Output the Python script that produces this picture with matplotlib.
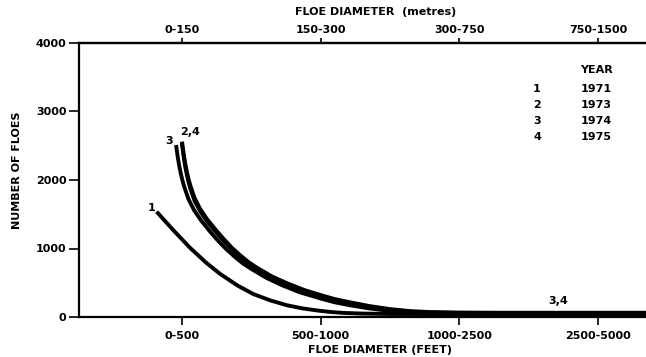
import matplotlib
matplotlib.use("Agg")
import matplotlib.pyplot as plt

# ---------------- data ----------------
feet_labels = ["0-500", "500-1000", "1000-2500", "2500-5000"]
metre_labels = ["0-150", "150-300", "300-750", "750-1500"]
class_pos = [1, 2, 3, 4]

years = ["1971", "1973", "1974", "1975"]
curve_ids = ["1", "2", "3", "4"]

x1 = [0.817, 0.88, 0.94, 1.0, 1.058, 1.12, 1.17, 1.22, 1.274, 1.34, 1.40, 1.46, 1.514,
      1.58, 1.64, 1.70, 1.755, 1.87, 1.995, 2.08, 2.161, 2.3, 2.5, 3.0, 4.4]
y1 = [1537, 1396, 1262, 1134, 1010, 894, 800, 718, 630, 541, 460, 394, 335,
      285, 240, 205, 172, 125, 90, 72, 60, 50, 44, 42, 42]

x2 = [1.00, 1.012, 1.024, 1.036, 1.048, 1.06, 1.09, 1.13, 1.18, 1.24, 1.30, 1.36, 1.42, 1.48,
      1.54, 1.65, 1.755, 1.88, 2.0, 2.1, 2.21, 2.35, 2.5, 2.65, 2.79, 3.0, 3.3, 4.4]
y2 = [2560, 2380, 2230, 2110, 2005, 1920, 1740, 1580, 1430, 1280, 1140, 1010, 900, 800,
      720, 590, 495, 395, 320, 262, 215, 160, 115, 85, 72, 65, 62, 62]

x3 = [0.957, 0.969, 0.981, 0.993, 1.005, 1.017, 1.047, 1.087, 1.137, 1.197, 1.257, 1.317,
      1.377, 1.437, 1.497, 1.61, 1.72, 1.85, 2.0, 2.1, 2.21, 2.35, 2.5, 2.65, 2.79, 3.0, 3.3, 4.4]
y3 = [2511, 2340, 2195, 2080, 1980, 1895, 1720, 1560, 1410, 1260, 1120, 995,
      885, 785, 705, 570, 465, 360, 270, 215, 172, 125, 88, 66, 56, 52, 50, 50]

x4 = [0.998, 1.012, 1.024, 1.036, 1.048, 1.06, 1.09, 1.13, 1.18, 1.24, 1.30, 1.36, 1.42, 1.48,
      1.54, 1.65, 1.755, 1.88, 2.0, 2.1, 2.21, 2.35, 2.5, 2.65, 2.79, 3.0, 3.3, 4.4]
y4 = [2545, 2340, 2185, 2065, 1960, 1875, 1700, 1545, 1395, 1250, 1110, 985, 875, 778,
      700, 573, 478, 382, 305, 250, 203, 150, 105, 78, 64, 58, 56, 56]

yticks = [0, 1000, 2000, 3000, 4000]

# ---------------- figure ----------------
W, H = 646, 357
fig = plt.figure(figsize=(W / 100, H / 100), dpi=100)
ax = fig.add_axes([79 / W, 1 - 317 / H, 1 - 79 / W, (317 - 43) / H])

FONT = dict(family="DejaVu Sans", fontweight="bold")
lw = 2.8
for xs, ys in [(x1, y1), (x3, y3), (x4, y4), (x2, y2)]:
    ax.plot(xs, ys, color="black", lw=lw, solid_capstyle="butt",
            solid_joinstyle="round", clip_on=True)

ax.set_xlim(0.2574, 4.345)
ax.set_ylim(0, 4000)

for s in ["left", "bottom", "top"]:
    ax.spines[s].set_linewidth(1.6)
ax.spines["right"].set_visible(False)

ax.set_yticks(yticks)
ax.set_yticklabels([str(v) for v in yticks], fontsize=8, **FONT)
ax.tick_params(axis="y", direction="out", length=7, width=1.2, pad=2)

ax.set_xticks(class_pos)
ax.set_xticklabels(feet_labels, fontsize=8, **FONT)
ax.tick_params(axis="x", direction="out", length=6, width=1.2, pad=4)

top = ax.secondary_xaxis("top")
top.set_xticks(class_pos)
top.set_xticklabels(metre_labels, fontsize=8, **FONT)
top.tick_params(axis="x", direction="out", length=3.5, width=1.2, pad=2)
top.spines["top"].set_linewidth(1.6)

# axis titles
fig.text(380 / W, 1 - 350 / H, "FLOE DIAMETER (FEET)", ha="center", va="center",
         fontsize=8, **FONT)
fig.text(376 / W, 1 - 12 / H, "FLOE DIAMETER  (metres)", ha="center", va="center",
         fontsize=8, **FONT)
fig.text(17 / W, 1 - 170 / H, "NUMBER OF FLOES", ha="center", va="center",
         rotation=90, fontsize=8, **FONT)

# curve labels
ax.text(0.78, 1591, "1", ha="center", va="center", fontsize=8, **FONT)
ax.text(0.906, 2570, "3", ha="center", va="center", fontsize=8, **FONT)
ax.text(1.058, 2700, "2,4", ha="center", va="center", fontsize=8, **FONT)
ax.text(3.71, 234, "3,4", ha="center", va="center", fontsize=8, **FONT)

# year key
fig.text(596 / W, 1 - 70 / H, "YEAR", ha="center", va="center", fontsize=8, **FONT)
row_y = [88.5, 104.7, 120.7, 137]
for cid, yr, py in zip(curve_ids, years, row_y):
    fig.text(537 / W, 1 - py / H, cid, ha="center", va="center", fontsize=8, **FONT)
    fig.text(596 / W, 1 - py / H, yr, ha="center", va="center", fontsize=8, **FONT)

fig.savefig("out.png", dpi=100, facecolor="white")
